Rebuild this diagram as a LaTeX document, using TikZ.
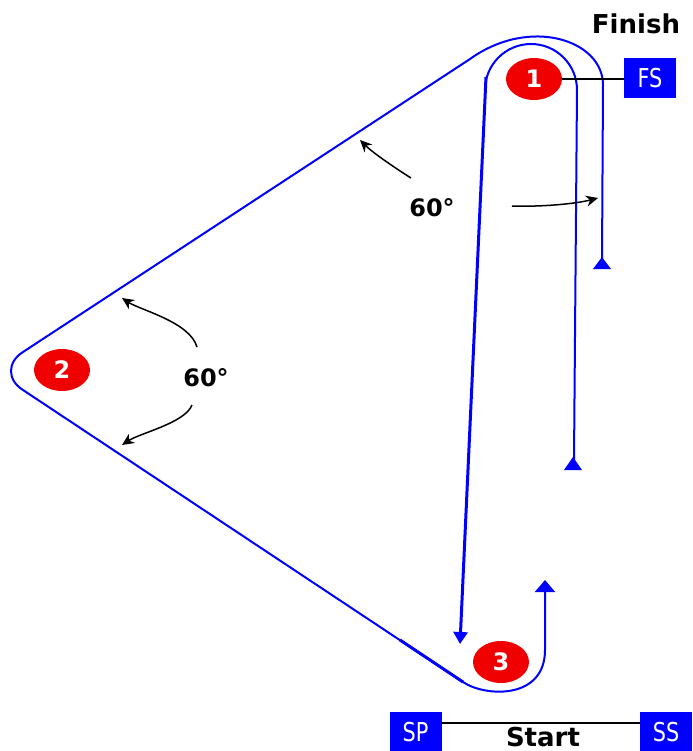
\documentclass[tikz,border=0pt]{standalone}
\usepackage{fontspec}
\setmainfont{DejaVu Sans}
\newfontfamily\tagfont{DejaVu Sans}[FakeStretch=0.8]
\usepackage{tikz}
\usetikzlibrary{shapes, arrows.meta, positioning, calc}
\definecolor{trackblue}{RGB}{0, 0, 255}
\definecolor{markred}{RGB}{240, 0, 0}

\begin{document}
\begin{tikzpicture}[x=0.5pt, y=-0.5pt,
  wpt/.style={ellipse, fill=markred, minimum width=28pt, minimum height=21pt, inner sep=0pt, text=white, font=\bfseries\fontsize{12}{12}\selectfont},
  tagbox/.style={fill=trackblue, minimum width=26pt, minimum height=20pt, inner sep=0pt, text=white, font=\tagfont\fontsize{13}{13}\selectfont},
  track/.style={draw=trackblue, line width=1pt},
  angarrow/.style={draw=black, line width=0.75pt, -{Stealth[length=6pt, width=5.5pt]}},
  lbl/.style={font=\bfseries\fontsize{13}{13}\selectfont}]
  \useasboundingbox (0,0) rectangle (692,751);

  % Outer loop round 2
  \coordinate (oR) at (602,262);
  \coordinate (oT) at (603,85);
  \coordinate (oD) at (470,59);
  \coordinate (oL1) at (23,352);
  \coordinate (oL2) at (23,390);
  \coordinate (oB) at (463,682);
  \coordinate (oE) at (545,580);
  \draw[track, -{Triangle[length=6pt, width=10pt]}] (oR) -- (oT)
    .. controls (603,40) and (530,16) .. (oD) -- (oL1)
    .. controls (7,362) and (7,380) .. (oL2) -- (oB)
    .. controls (485,697) and (545,700) .. (545,650) -- (oE);
  \draw[trackblue, line width=1.5pt] (400,640) -- (oB);
  \fill[trackblue] (602,257) -- (611,269) -- (593,269) -- cycle;

  % Inner loop round 1
  \draw[track] (485,90) arc[start angle=180, end angle=360, radius=46] -- (574,460);
  \fill[trackblue] (573,457) -- (582,470) -- (564,470) -- cycle;

  % Leg from 1 to 3
  \draw[trackblue, line width=1.5pt, -{Triangle[length=6pt, width=7pt]}] (486,77) -- (460,644);

  % Waypoints
  \node[wpt] (n1) at (534,79) {1};
  \node[wpt] (n2) at (62,370) {2};
  \node[wpt] (n3) at (501,662) {3};

  % Finish gate
  \node[tagbox] (fs) at (650,78) {FS};
  \node[lbl] (finish) at (636,24) {Finish};
  \draw[line width=1pt] (n1.east) -- (n1.east -| fs.west);

  % Start gate
  \node[tagbox] (sp) at (415.5,732) {SP};
  \node[tagbox] (ss) at (666,732) {SS};
  \draw[line width=1pt] ($(sp.north east)+(0,11)$) -- ($(ss.north west)+(0,11)$);
  \node[lbl] (start) at (543,737) {Start};

  % Angles
  \node[lbl, font=\bfseries\fontsize{12}{12}\selectfont] (ang1) at (432,208) {60°};
  \node[lbl, font=\bfseries\fontsize{12}{12}\selectfont] (ang2) at (206,378) {60°};
  \draw[angarrow] (411,178) .. controls (392,166) and (372,152) .. (360,140);
  \draw[angarrow] (512,206) .. controls (540,207) and (575,204) .. (598,198);
  \draw[angarrow] (197,347) .. controls (190,322) and (140,310) .. (122,298);
  \draw[angarrow] (192,405) .. controls (185,423) and (140,433) .. (122,445);
\end{tikzpicture}
\end{document}
